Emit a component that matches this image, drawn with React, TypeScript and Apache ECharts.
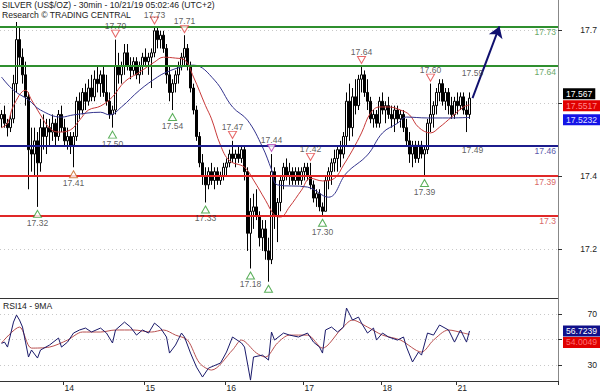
import React, { useEffect, useRef } from "react";
import * as echarts from "echarts";

const TITLE = "SILVER (US$/OZ) - 30min - 10/21/19 05:02:46 (UTC+2)";
const SUBTITLE = "Research © TRADING CENTRAL";
const RSI_TITLE = "RSI14 - 9MA";

const SLOTS = 186;
const dayTickIndex = [21, 48, 75, 101, 127, 152];
const dayLabels = ["14", "15", "16", "17", "18", "21"];

// [open, close, low, high]
const ohlc: number[][] = [
  [17.52, 17.53, 17.50, 17.54], [17.53, 17.51, 17.50, 17.55], [17.51, 17.50, 17.48, 17.52], [17.50, 17.52, 17.49, 17.53],
  [17.52, 17.60, 17.51, 17.62], [17.60, 17.70, 17.58, 17.74], [17.70, 17.66, 17.64, 17.73], [17.66, 17.62, 17.60, 17.68],
  [17.62, 17.57, 17.55, 17.65], [17.57, 17.45, 17.36, 17.58], [17.45, 17.44, 17.40, 17.50], [17.44, 17.47, 17.39, 17.50],
  [17.47, 17.42, 17.32, 17.49], [17.42, 17.50, 17.40, 17.52], [17.50, 17.48, 17.45, 17.53], [17.48, 17.50, 17.44, 17.52],
  [17.50, 17.49, 17.46, 17.52], [17.49, 17.51, 17.47, 17.53], [17.51, 17.48, 17.46, 17.52], [17.48, 17.53, 17.47, 17.54],
  [17.53, 17.50, 17.49, 17.55], [17.50, 17.47, 17.46, 17.52], [17.47, 17.48, 17.45, 17.50], [17.48, 17.46, 17.44, 17.49],
  [17.46, 17.48, 17.41, 17.49], [17.48, 17.56, 17.47, 17.57], [17.56, 17.54, 17.52, 17.58], [17.54, 17.58, 17.53, 17.59],
  [17.58, 17.56, 17.54, 17.60], [17.56, 17.59, 17.55, 17.61], [17.59, 17.57, 17.56, 17.62], [17.57, 17.61, 17.56, 17.63],
  [17.61, 17.60, 17.58, 17.64], [17.60, 17.62, 17.57, 17.63], [17.62, 17.58, 17.57, 17.64], [17.58, 17.56, 17.55, 17.62],
  [17.56, 17.53, 17.52, 17.58], [17.53, 17.54, 17.50, 17.55], [17.54, 17.64, 17.53, 17.70], [17.64, 17.62, 17.60, 17.67],
  [17.62, 17.64, 17.60, 17.65], [17.64, 17.67, 17.62, 17.69], [17.67, 17.64, 17.63, 17.69], [17.64, 17.63, 17.61, 17.66],
  [17.63, 17.65, 17.62, 17.66], [17.65, 17.62, 17.61, 17.66], [17.62, 17.64, 17.60, 17.65], [17.64, 17.66, 17.62, 17.67],
  [17.66, 17.65, 17.64, 17.68], [17.65, 17.66, 17.62, 17.67], [17.66, 17.67, 17.59, 17.68], [17.67, 17.72, 17.66, 17.73],
  [17.72, 17.70, 17.68, 17.73], [17.70, 17.71, 17.68, 17.72], [17.71, 17.68, 17.67, 17.72], [17.68, 17.62, 17.60, 17.69],
  [17.62, 17.58, 17.56, 17.64], [17.58, 17.60, 17.54, 17.61], [17.60, 17.62, 17.58, 17.63], [17.62, 17.64, 17.60, 17.65],
  [17.64, 17.66, 17.63, 17.67], [17.66, 17.68, 17.64, 17.71], [17.68, 17.64, 17.63, 17.69], [17.64, 17.59, 17.58, 17.65],
  [17.59, 17.54, 17.53, 17.60], [17.54, 17.48, 17.47, 17.55], [17.48, 17.42, 17.41, 17.49], [17.42, 17.39, 17.37, 17.44],
  [17.39, 17.37, 17.33, 17.41], [17.37, 17.40, 17.36, 17.41], [17.40, 17.38, 17.37, 17.42], [17.38, 17.40, 17.36, 17.41],
  [17.40, 17.38, 17.37, 17.41], [17.38, 17.39, 17.37, 17.40], [17.39, 17.41, 17.38, 17.42], [17.41, 17.42, 17.39, 17.43],
  [17.42, 17.44, 17.41, 17.45], [17.44, 17.43, 17.42, 17.47], [17.43, 17.44, 17.41, 17.45], [17.44, 17.43, 17.42, 17.46],
  [17.43, 17.45, 17.42, 17.46], [17.45, 17.40, 17.38, 17.46], [17.40, 17.26, 17.22, 17.41], [17.26, 17.31, 17.18, 17.34],
  [17.31, 17.32, 17.27, 17.35], [17.32, 17.30, 17.29, 17.36], [17.30, 17.25, 17.23, 17.31], [17.25, 17.27, 17.22, 17.29],
  [17.27, 17.22, 17.20, 17.29], [17.22, 17.20, 17.15, 17.25], [17.20, 17.40, 17.19, 17.44], [17.40, 17.30, 17.27, 17.41],
  [17.30, 17.33, 17.24, 17.34], [17.33, 17.38, 17.31, 17.39], [17.38, 17.41, 17.36, 17.42], [17.41, 17.39, 17.38, 17.43],
  [17.39, 17.40, 17.37, 17.42], [17.40, 17.38, 17.37, 17.41], [17.38, 17.40, 17.37, 17.41], [17.40, 17.38, 17.37, 17.41],
  [17.38, 17.40, 17.37, 17.41], [17.40, 17.41, 17.38, 17.42], [17.41, 17.39, 17.38, 17.42], [17.39, 17.37, 17.36, 17.42],
  [17.37, 17.34, 17.33, 17.38], [17.34, 17.35, 17.32, 17.36], [17.35, 17.32, 17.31, 17.36], [17.32, 17.31, 17.30, 17.33],
  [17.31, 17.38, 17.31, 17.39], [17.38, 17.40, 17.36, 17.41], [17.40, 17.42, 17.37, 17.43], [17.42, 17.43, 17.40, 17.45],
  [17.43, 17.45, 17.40, 17.46], [17.45, 17.44, 17.41, 17.47], [17.44, 17.48, 17.43, 17.49], [17.48, 17.56, 17.46, 17.58],
  [17.56, 17.50, 17.47, 17.60], [17.50, 17.57, 17.48, 17.59], [17.57, 17.55, 17.53, 17.61], [17.55, 17.61, 17.54, 17.62],
  [17.61, 17.62, 17.58, 17.64], [17.62, 17.58, 17.57, 17.63], [17.58, 17.56, 17.54, 17.61], [17.56, 17.52, 17.51, 17.57],
  [17.52, 17.53, 17.50, 17.54], [17.53, 17.51, 17.50, 17.54], [17.51, 17.56, 17.50, 17.57], [17.56, 17.54, 17.53, 17.58],
  [17.54, 17.55, 17.51, 17.56], [17.55, 17.53, 17.52, 17.57], [17.53, 17.52, 17.50, 17.55], [17.52, 17.54, 17.49, 17.55],
  [17.54, 17.52, 17.51, 17.55], [17.52, 17.53, 17.50, 17.54], [17.53, 17.50, 17.49, 17.54], [17.50, 17.47, 17.46, 17.52],
  [17.47, 17.44, 17.42, 17.49], [17.44, 17.46, 17.41, 17.47], [17.46, 17.43, 17.42, 17.47], [17.43, 17.46, 17.42, 17.47],
  [17.46, 17.44, 17.43, 17.47], [17.44, 17.45, 17.39, 17.46], [17.45, 17.51, 17.44, 17.52], [17.51, 17.53, 17.49, 17.60],
  [17.53, 17.55, 17.50, 17.56], [17.55, 17.58, 17.53, 17.59], [17.58, 17.60, 17.56, 17.61], [17.60, 17.56, 17.55, 17.61],
  [17.56, 17.58, 17.54, 17.59], [17.58, 17.55, 17.53, 17.59], [17.55, 17.53, 17.52, 17.57], [17.53, 17.56, 17.52, 17.57],
  [17.56, 17.55, 17.53, 17.58], [17.55, 17.57, 17.54, 17.58], [17.57, 17.54, 17.53, 17.58], [17.54, 17.53, 17.49, 17.56],
  [17.53, 17.567, 17.52, 17.58],
];

// moving averages: [bar index, value]
const redMA: number[][] = [
  [0, 17.50], [2, 17.51], [4, 17.55], [8, 17.585], [10, 17.563], [13, 17.529], [16, 17.499], [19, 17.49], [23, 17.495],
  [26, 17.517], [29, 17.54], [33, 17.549], [37, 17.57], [41, 17.604], [46, 17.626], [51, 17.649], [54, 17.66],
  [58, 17.658], [61, 17.654], [64, 17.615], [68, 17.55], [70, 17.52], [73, 17.46], [76, 17.425], [81, 17.41],
  [84, 17.381], [88, 17.335], [91, 17.301], [93, 17.297], [96, 17.32], [100, 17.358], [103, 17.385], [107, 17.379],
  [111, 17.385], [114, 17.415], [117, 17.449], [120, 17.488], [123, 17.533], [126, 17.547], [129, 17.547],
  [133, 17.54], [136, 17.529], [139, 17.501], [143, 17.488], [146, 17.501], [150, 17.524], [154, 17.547], [156, 17.5517],
];
const blueMA: number[][] = [
  [0, 17.615], [4, 17.585], [9, 17.563], [13, 17.54], [20, 17.524], [24, 17.529], [33, 17.535], [36, 17.529],
  [40, 17.547], [46, 17.585], [52, 17.615], [55, 17.626], [60, 17.638], [64, 17.642], [71, 17.608], [77, 17.547],
  [82, 17.517], [87, 17.456], [90, 17.405], [92, 17.37], [102, 17.365], [109, 17.342], [115, 17.397], [122, 17.438],
  [127, 17.488], [132, 17.51], [135, 17.524], [142, 17.522], [149, 17.522], [156, 17.5232],
];

const rsi: number[][] = [
  [0, 47.0], [1, 48.0], [2, 44.1], [4, 63.7], [5, 69.2], [6, 65.3], [7, 59.8], [8, 48.0], [9, 36.3], [10, 41.8],
  [12, 35.5], [13, 41.8], [16, 45.7], [19, 51.2], [20, 44.1], [22, 48.0], [24, 55.1], [26, 57.5], [28, 59.0],
  [30, 55.9], [33, 59.0], [35, 55.1], [37, 47.3], [38, 57.5], [41, 63.7], [43, 59.8], [45, 53.5], [47, 57.5],
  [49, 55.1], [51, 62.9], [53, 59.0], [55, 52.0], [56, 39.4], [58, 45.7], [60, 55.1], [61, 52.0], [63, 39.4],
  [65, 28.4], [67, 20.6], [69, 27.6], [73, 31.6], [75, 40.2], [77, 52.0], [80, 47.3], [81, 44.1], [83, 18.2],
  [84, 36.3], [87, 37.8], [89, 33.9], [90, 55.9], [91, 49.6], [94, 55.1], [96, 53.5], [99, 52.0], [102, 55.1],
  [104, 48.0], [106, 44.1], [107, 39.4], [108, 57.5], [110, 59.8], [112, 55.9], [114, 59.8], [115, 74.7],
  [117, 65.3], [119, 67.6], [120, 62.9], [122, 55.1], [124, 59.0], [125, 49.6], [127, 55.1], [129, 52.0],
  [132, 49.6], [134, 52.0], [135, 44.1], [137, 32.4], [139, 40.2], [140, 37.8], [142, 55.1], [144, 53.5],
  [146, 61.4], [149, 57.5], [151, 48.0], [153, 57.5], [155, 48.0], [156, 56.7239],
];
const rsiMA: number[][] = [
  [0, 47.3], [6, 59.8], [10, 43.3], [16, 44.1], [22, 49.6], [27, 55.9], [33, 55.9], [38, 57.5], [44, 57.5],
  [50, 55.9], [54, 57.5], [58, 53.5], [62, 49.6], [66, 31.6], [70, 26.1], [77, 41.8], [80, 49.6], [85, 39.4],
  [88, 36.3], [92, 47.3], [96, 53.5], [102, 53.5], [107, 43.3], [113, 57.5], [117, 65.3], [122, 59.8], [127, 53.5],
  [133, 49.6], [140, 40.2], [144, 49.6], [149, 57.5], [154, 55.1], [156, 54.0049],
];

const pivotHighs: number[][] = [[38, 17.70], [51, 17.73], [61, 17.71], [77, 17.47], [90, 17.44], [103, 17.42], [120, 17.64], [143, 17.60]];
const pivotLows: number[][] = [[12, 17.32], [24, 17.41], [37, 17.50], [57, 17.54], [68, 17.33], [83, 17.18], [89, 17.15], [107, 17.30], [141, 17.39]];
const noteAbove: number[][] = [[157, 17.59]];
const noteBelow: number[][] = [[157, 17.49]];
const arrowFrom = [157, 17.567];
const arrowTo = [166, 17.73];

const levelValues = [17.73, 17.64, 17.46, 17.39, 17.30];
const levelTexts = ["17.73", "17.64", "17.46", "17.39", "17.3"];
const levelKinds = ["res", "res", "pivot", "sup", "sup"];

const lastClose = 17.567;
const lastRedMA = 17.5517;
const lastBlueMA = 17.5232;
const lastRsi = 56.7239;
const lastRsiMA = 54.0049;

const priceTicks = [17.224, 17.39, 17.556, 17.722];
const priceTickLabels = [17.224, 17.39, 17.722];
const rsiTicks = [30, 50, 70];
const rsiTickLabels = [30, 70];

const PRICE_MIN = 17.113;
const PRICE_MAX = 17.79;
const RSI_MIN = 17.5;
const RSI_MAX = 81.8;

const FONT = "'Liberation Sans', Arial, sans-serif";
const FS = 8.6;

const levelStyle: Record<string, { line: string; text: string }> = {
  res: { line: "#2f8f2f", text: "#6aa86a" },
  pivot: { line: "#1c1c8c", text: "#5a5aaa" },
  sup: { line: "#e02828", text: "#d86868" },
};
const specialMarks: Record<string, string> = { "24": "#c8641e", "90": "#b03cb0" };
const hiddenLabels = [89];
const tuckedLabels = [51];

function tag(value: number, text: string, bg: string, fg: string, dy = 0) {
  return {
    yAxis: value,
    lineStyle: { color: "rgba(0,0,0,0)", width: 0 },
    label: {
      show: true,
      position: "end",
      formatter: text,
      backgroundColor: bg,
      color: fg,
      padding: [1, 3, 1, 3],
      fontSize: FS,
      fontFamily: FONT,
      distance: 5,
      offset: [0, dy],
    },
  };
}

function buildOption() {
  const categories = Array.from({ length: SLOTS }, (_, i) => String(i));
  const isDay = (i: number) => dayTickIndex.indexOf(i) >= 0;
  const markItem = (p: number[]) => {
    const c = specialMarks[String(p[0])];
    const item: any = { value: p };
    if (c) item.itemStyle = { borderColor: c };
    if (hiddenLabels.indexOf(p[0]) >= 0) item.label = { show: false };
    if (tuckedLabels.indexOf(p[0]) >= 0) item.label = { distance: -2.5 };
    return item;
  };
  const pivotLabel = (position: string) => ({
    show: true,
    position,
    distance: 0,
    formatter: (p: any) => p.value[1].toFixed(2),
    fontSize: FS,
    lineHeight: 8,
    color: "#333",
    fontFamily: FONT,
  });
  return {
    animation: false,
    textStyle: { fontFamily: FONT },
    title: [
      {
        text: TITLE,
        subtext: SUBTITLE,
        left: 2,
        top: 0,
        padding: 0,
        itemGap: 0,
        textStyle: { fontSize: FS, fontWeight: "normal", color: "#222", fontFamily: FONT, lineHeight: 9 },
        subtextStyle: { fontSize: FS, color: "#222", fontFamily: FONT, lineHeight: 12 },
      },
      {
        text: RSI_TITLE,
        left: 3,
        top: 300,
        padding: 0,
        textStyle: { fontSize: FS, fontWeight: "normal", color: "#222", fontFamily: FONT, lineHeight: 11 },
      },
    ],
    grid: [
      { left: 0, right: 42, top: 0, height: 298 },
      { left: 0, right: 42, top: 299, height: 82 },
    ],
    xAxis: [
      {
        type: "category",
        gridIndex: 0,
        data: categories,
        boundaryGap: true,
        axisLine: { show: true, lineStyle: { color: "#333", width: 1 } },
        axisTick: { show: false },
        axisLabel: { show: false },
        splitLine: { show: false },
      },
      {
        type: "category",
        gridIndex: 1,
        data: categories,
        boundaryGap: true,
        axisLine: { show: true, lineStyle: { color: "#333", width: 1 } },
        axisTick: { show: true, interval: (i: number) => isDay(i), length: 4, lineStyle: { color: "#333" } },
        axisLabel: {
          interval: (i: number) => isDay(i),
          formatter: (_v: string, i: number) => dayLabels[dayTickIndex.indexOf(i)] ?? "",
          align: "left",
          margin: 2,
          fontSize: FS,
          color: "#222",
          fontFamily: FONT,
        },
        splitLine: { show: false },
      },
    ],
    yAxis: [
      {
        type: "value",
        gridIndex: 0,
        position: "right",
        min: PRICE_MIN,
        max: PRICE_MAX,
        axisLine: { show: true, lineStyle: { color: "#888" } },
        axisTick: { show: true, length: 4, customValues: priceTicks, lineStyle: { color: "#333" } },
        axisLabel: {
          customValues: priceTickLabels,
          formatter: (v: number) => v.toFixed(1),
          align: "right",
          margin: 39,
          fontSize: FS,
          color: "#222",
          fontFamily: FONT,
        },
        splitLine: { show: true, lineStyle: { color: "#c8c8c8", type: [1, 3] } },
      },
      {
        type: "value",
        gridIndex: 1,
        position: "right",
        min: RSI_MIN,
        max: RSI_MAX,
        axisLine: { show: true, lineStyle: { color: "#888" } },
        axisTick: { show: true, length: 4, customValues: rsiTicks, lineStyle: { color: "#333" } },
        axisLabel: {
          customValues: rsiTickLabels,
          formatter: (v: number) => String(v),
          align: "right",
          margin: 39,
          fontSize: FS,
          color: "#222",
          fontFamily: FONT,
        },
        splitLine: { show: true, lineStyle: { color: "#c8c8c8", type: [1, 3] } },
      },
    ],
    series: [
      {
        type: "candlestick",
        xAxisIndex: 0,
        yAxisIndex: 0,
        data: ohlc,
        barWidth: 2,
        itemStyle: { color: "#ffffff", color0: "#000000", borderColor: "#000000", borderColor0: "#000000", borderWidth: 1 },
        z: 2,
        markLine: {
          silent: true,
          symbol: "none",
          animation: false,
          data: [
            ...levelValues.map((v, k) => ({
              yAxis: v,
              lineStyle: { color: levelStyle[levelKinds[k]].line, width: 2, type: "solid" },
              label: {
                show: true,
                position: "insideEndBottom",
                formatter: levelTexts[k],
                color: levelStyle[levelKinds[k]].text,
                fontSize: FS,
                fontFamily: FONT,
                distance: [2, 1],
              },
            })),
            tag(lastClose, lastClose.toFixed(3), "#000000", "#ffffff", -3),
            tag(lastRedMA, lastRedMA.toFixed(4), "#e00000", "#ff8a8a", 0),
            tag(lastBlueMA, lastBlueMA.toFixed(4), "#1414e6", "#e0e0ff", 1),
          ],
        },
      },
      {
        type: "line",
        xAxisIndex: 0,
        yAxisIndex: 0,
        data: redMA,
        smooth: 0.4,
        showSymbol: false,
        lineStyle: { color: "#c83a3a", width: 1 },
        z: 3,
      },
      {
        type: "line",
        xAxisIndex: 0,
        yAxisIndex: 0,
        data: blueMA,
        smooth: 0.4,
        showSymbol: false,
        lineStyle: { color: "#34348e", width: 1 },
        z: 3,
        markLine: {
          silent: true,
          symbol: ["none", "arrow"],
          symbolSize: 11,
          animation: false,
          label: { show: false },
          lineStyle: { color: "#10106e", width: 2, type: "solid" },
          data: [[{ coord: arrowFrom }, { coord: arrowTo }]],
        },
      },
      {
        type: "scatter",
        xAxisIndex: 0,
        yAxisIndex: 0,
        symbol: "path://M0,0L10,0L5,9Z",
        symbolSize: [8, 7],
        symbolOffset: [0, -6],
        itemStyle: { color: "#ffffff", borderColor: "#e04040", borderWidth: 1 },
        label: pivotLabel("top"),
        data: pivotHighs.map((p) => markItem(p)),
        z: 6,
      },
      {
        type: "scatter",
        xAxisIndex: 0,
        yAxisIndex: 0,
        symbol: "path://M5,0L10,9L0,9Z",
        symbolSize: [8, 7],
        symbolOffset: [0, 7],
        itemStyle: { color: "#ffffff", borderColor: "#2f9a2f", borderWidth: 1 },
        label: { ...pivotLabel("bottom"), distance: 1 },
        data: pivotLows.map((p) => markItem(p)),
        z: 6,
      },
      {
        type: "scatter",
        xAxisIndex: 0,
        yAxisIndex: 0,
        symbol: "circle",
        symbolSize: 1,
        itemStyle: { color: "rgba(0,0,0,0)" },
        label: {
          show: true,
          position: "top",
          distance: 10,
          formatter: (p: any) => p.value[1].toFixed(2),
          fontSize: FS,
          color: "#333",
          fontFamily: FONT,
        },
        data: noteAbove,
        z: 6,
      },
      {
        type: "scatter",
        xAxisIndex: 0,
        yAxisIndex: 0,
        symbol: "circle",
        symbolSize: 1,
        itemStyle: { color: "rgba(0,0,0,0)" },
        label: {
          show: true,
          position: "bottom",
          distance: 13,
          formatter: (p: any) => p.value[1].toFixed(2),
          fontSize: FS,
          color: "#333",
          fontFamily: FONT,
        },
        data: noteBelow,
        z: 6,
      },
      {
        type: "line",
        xAxisIndex: 1,
        yAxisIndex: 1,
        data: rsi,
        showSymbol: false,
        lineStyle: { color: "#1a1a6a", width: 1 },
        z: 4,
        markLine: {
          silent: true,
          symbol: "none",
          animation: false,
          data: [tag(lastRsi, lastRsi.toFixed(4), "#10108a", "#ffffff", 0)],
        },
      },
      {
        type: "line",
        xAxisIndex: 1,
        yAxisIndex: 1,
        data: rsiMA,
        smooth: 0.3,
        showSymbol: false,
        lineStyle: { color: "#b85050", width: 1 },
        z: 3,
        markLine: {
          silent: true,
          symbol: "none",
          animation: false,
          data: [tag(lastRsiMA, lastRsiMA.toFixed(4), "#e00000", "#ff7070", 8)],
        },
      },
    ],
  };
}

export default function App() {
  const ref = useRef<HTMLDivElement>(null);
  useEffect(() => {
    document.body.style.margin = "0";
    const chart = echarts.init(ref.current as HTMLDivElement, undefined, { renderer: "svg" });
    chart.setOption(buildOption() as any);
    return () => chart.dispose();
  }, []);
  return <div ref={ref} style={{ width: 600, height: 392, background: "#fff" }} />;
}
